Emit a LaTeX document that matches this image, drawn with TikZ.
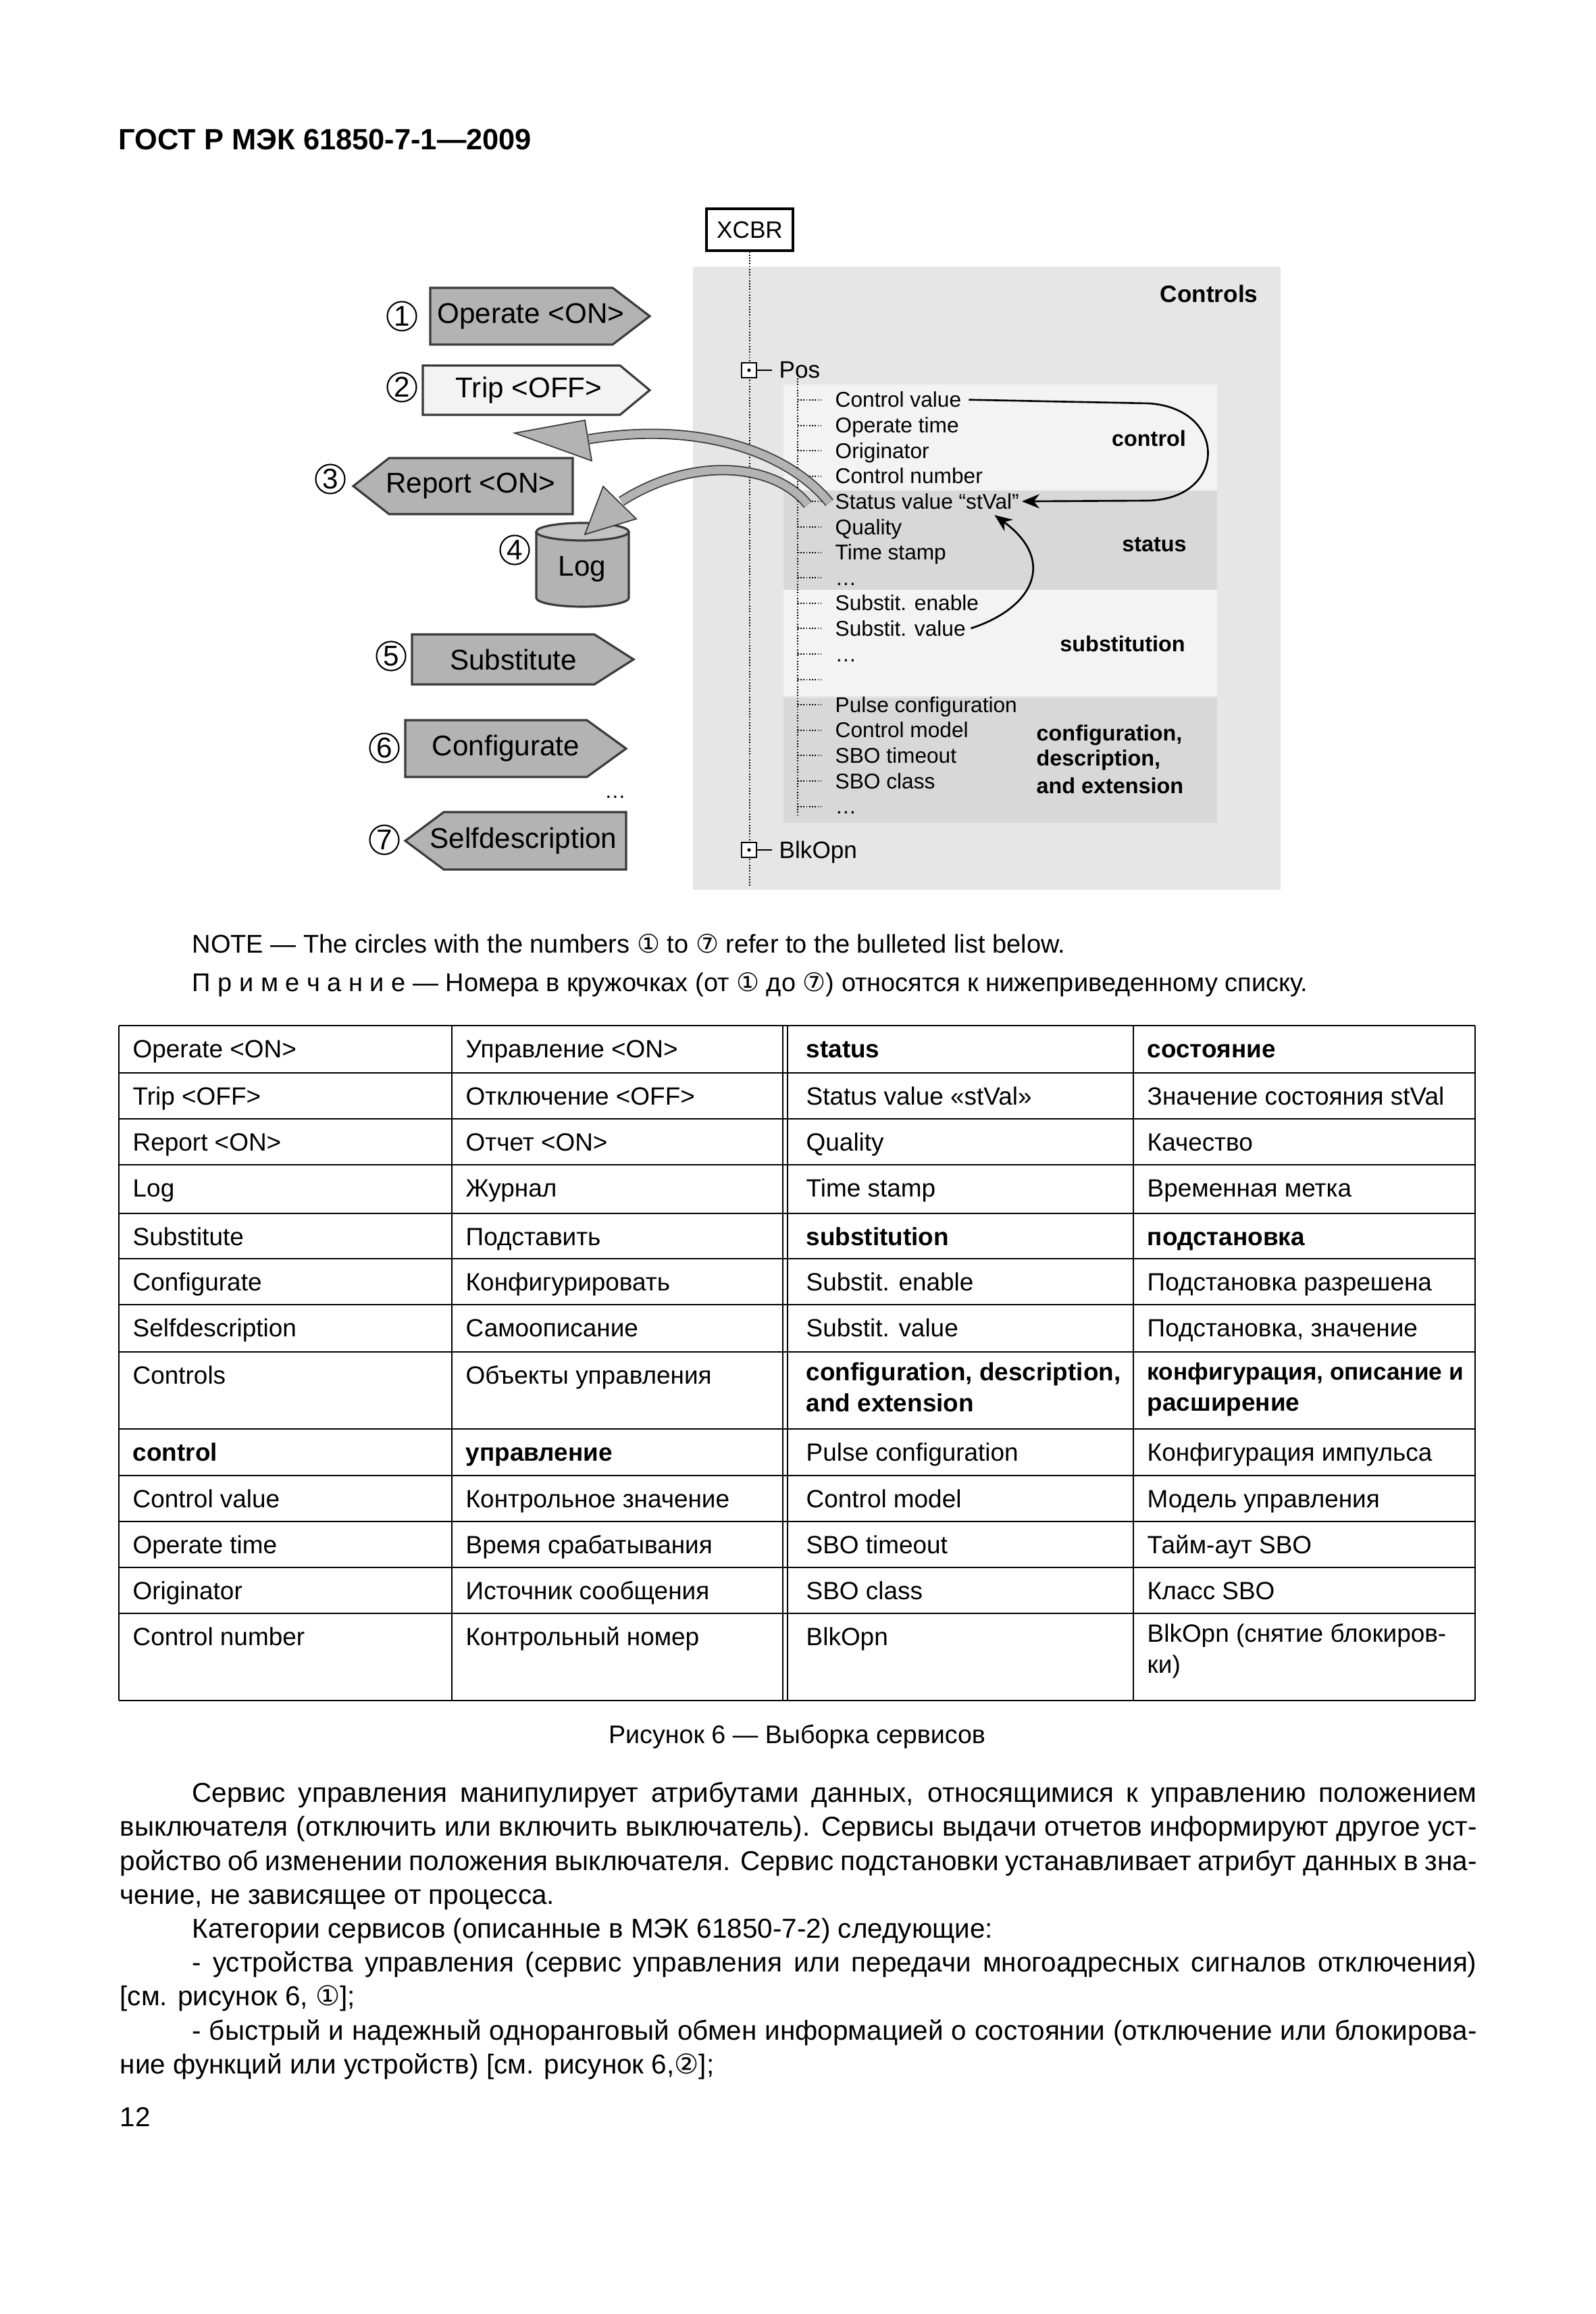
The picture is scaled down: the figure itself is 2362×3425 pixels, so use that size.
\documentclass[tikz,border=0pt]{standalone}
\usepackage{fontspec}
\setmainfont{Liberation Sans}
\newfontfamily\symfont{DejaVu Sans}
\usetikzlibrary{arrows.meta,calc,positioning}
\definecolor{ctlback}{HTML}{E6E6E6}
\definecolor{bandlight}{HTML}{F3F3F3}
\definecolor{banddark}{HTML}{D8D8D8}
\definecolor{boxgray}{HTML}{B3B3B3}
\definecolor{boxedge}{HTML}{3A3A3A}
\tikzset{
    svcbox/.style={fill=boxgray,draw=boxedge,line width=0.9pt,line join=miter},
    svclabel/.style={inner sep=0pt,font=\fontsize{12}{14}\selectfont},
    numcirc/.style={circle,draw=black,line width=0.6pt,fill=white,minimum size=0.43cm,inner sep=0pt,font=\fontsize{12}{13}\selectfont},
    treeitem/.style={anchor=base west,inner sep=0pt,font=\fontsize{9}{10}\selectfont},
    treehead/.style={anchor=base west,inner sep=0pt,font=\fontsize{10}{12}\selectfont},
    grouplabel/.style={inner sep=0pt,font=\bfseries\fontsize{9.2}{11}\selectfont},
    treeline/.style={black,line width=0.55pt,dash pattern=on 0.5pt off 0.7pt},
    ctrlarrow/.style={-{Stealth[length=2.6mm,width=2.1mm]},line width=0.75pt},
    bigarrow/.style={draw=boxedge,double=boxgray,double distance=3.3pt,line width=0.5pt},
    arrowhead/.style={fill=boxgray,draw=boxedge,line width=0.5pt,line join=miter},
    tablerule/.style={black,line width=0.8pt},
    tablecol/.style={black,line width=0.45pt},
    celltext/.style={anchor=north west,inner sep=0pt,align=left,font=\fontsize{10.5}{13.1}\selectfont,execute at begin node=\strut},
    bodyline/.style={anchor=base west,inner sep=0pt,font=\fontsize{11.5}{13}\selectfont},
    notetext/.style={anchor=base west,inner sep=0pt,font=\fontsize{10.8}{12}\selectfont}
}
\newcommand{\fullline}[1]{\makebox[571.3pt][s]{#1}}
\newcommand{\indline}[1]{\makebox[540.8pt][s]{#1}}

\begin{document}
\begin{tikzpicture}[x=0.01cm,y=-0.01cm]
  \useasboundingbox (0,0) rectangle (2362,3425);
  \fill[white] (0,0) rectangle (2362,3425);

  \node[anchor=west,inner sep=0pt,font=\bfseries\fontsize{12.35}{14}\selectfont] (header) at (175,207) {ГОСТ Р МЭК 61850-7-1—2009};

  % data object tree
  \fill[ctlback] (1026,395) rectangle (1896,1317);
  \fill[bandlight] (1160,569) rectangle (1802,726);
  \fill[banddark] (1160,726) rectangle (1802,873);
  \fill[bandlight] (1160,873) rectangle (1802,1030);
  \fill[banddark] (1160,1033) rectangle (1802,1218);
  \node[draw,line width=0.9pt,fill=white,minimum width=1.28cm,minimum height=0.62cm,inner sep=0pt,font=\fontsize{10}{12}\selectfont] (xcbr) at (1110,340) {XCBR};
  \node[anchor=east,inner sep=0pt,font=\bfseries\fontsize{10}{12}\selectfont] (controls) at (1863,435) {Controls};
  \draw[treeline] (xcbr.south) -- (1110,1313);
  \draw[treeline] (1181,560) -- (1181,1207);
  \foreach \nm/\yy/\txt in {pos/548/Pos,blkopn/1258/BlkOpn}{
    \node[draw,line width=0.45pt,fill=white,minimum size=0.22cm,inner sep=0pt] (\nm box) at (1109,\yy) {};
    \fill (\nm box.center) circle (2.6);
    \draw[line width=0.45pt] (\nm box.east) -- ++(22,0);
    \node[treehead] (\nm) at (1153,\yy+12) {\txt};
  }
  \foreach \i in {0,...,16}
    \draw[treeline] (1181,{592+37.6*\i}) -- ++(35,0);
  \foreach \i/\txt in {0/Control value,1/Operate time,2/Originator,3/Control number,4/Status value “stVal”,5/Quality,6/Time stamp,7/\ldots,8/Substit. enable,9/Substit. value,10/\ldots,12/Pulse configuration,13/Control model,14/SBO timeout,15/SBO class,16/\ldots}
    \node[treeitem] (r\i) at (1236,{603+37.6*\i}) {\txt};
  \node[grouplabel] (lblctl) at (1701,649) {control};
  \node[grouplabel] (lblst) at (1709,806) {status};
  \node[grouplabel] (lblsub) at (1662,953) {substitution};
  \node[grouplabel,anchor=west] (lblcfga) at (1534,1088) {configuration,};
  \node[grouplabel,anchor=west] (lblcfgb) at (1534,1125) {description,};
  \node[grouplabel,anchor=west] (lblcfgc) at (1534,1163) {and extension};
  \draw[ctrlarrow] ([xshift=3pt]r0.east) -- (1700,597) .. controls (1818,604) and (1818,738) .. (1700,741) -- ([xshift=1pt]r4.east);
  \draw[ctrlarrow] ([xshift=2pt]r9.east) .. controls (1530,900) and (1565,830) .. ($(r4.south east)+(-37,8)$);

  % services
  \draw[svcbox] (637,426) -- (907,426) -- (962,468) -- (907,510) -- (637,510) -- cycle;
  \node[svclabel] (operate) at (786,468) {Operate <ON>};
  \draw[svcbox,fill=bandlight] (626,541) -- (918,541) -- (962,577.5) -- (918,614) -- (626,614) -- cycle;
  \node[svclabel] (trip) at (783,577.5) {Trip <OFF>};
  \draw[svcbox] (848,678) -- (576,678) -- (523,719.5) -- (576,761) -- (848,761) -- cycle;
  \node[svclabel] (report) at (697,719.5) {Report <ON>};
  \fill[boxgray] (794,787) -- (794,885) arc[start angle=180,end angle=0,x radius=68.5,y radius=13] -- (931,787) -- cycle;
  \draw[boxedge,line width=0.9pt] (794,787) -- (794,885) arc[start angle=180,end angle=0,x radius=68.5,y radius=13] -- (931,787);
  \draw[boxedge,line width=0.9pt,fill=boxgray!80] (862.5,787) ellipse [x radius=68.5,y radius=13];
  \node[svclabel] (log) at (862,842) {Log};
  \draw[svcbox] (610,939) -- (880,939) -- (938,976) -- (880,1013) -- (610,1013) -- cycle;
  \node[svclabel] (subst) at (760,976) {Substitute};
  \draw[svcbox] (600,1066) -- (869,1066) -- (927,1108) -- (869,1150) -- (600,1150) -- cycle;
  \node[svclabel] (config) at (749,1108) {Configurate};
  \node[inner sep=0pt,font=\fontsize{9}{10}\selectfont] (moresvc) at (911,1180) {\ldots};
  \draw[svcbox] (927,1202) -- (657,1202) -- (600,1244.5) -- (657,1287) -- (927,1287) -- cycle;
  \node[svclabel] (selfdesc) at (775,1244.5) {Selfdescription};
  \foreach \k/\xx/\yy in {1/595/468,2/595/573,3/489/709,4/762/814,5/579/971,6/569/1107,7/569/1243}
    \node[numcirc] (n\k) at (\xx,\yy) {\k};

  % report and log arrows
  \coordinate (reptail) at ($(r4.west)+(-8,2)$);
  \coordinate (logtail) at ($(r4.west)+(-40,5)$);
  \draw[bigarrow] (reptail) .. controls (1170,672) and (1040,622) .. (872,650);
  \draw[arrowhead] (866,622) -- (762,641) -- (876,682) -- cycle;
  \draw[bigarrow] (logtail) .. controls (1150,688) and (1030,672) .. (920,742);
  \draw[arrowhead] (893,720) -- (866,791) -- (942,768) -- cycle;

  % note
  \node[notetext] (note1) at (284,1410) {NOTE — The circles with the numbers {\symfont ①} to {\symfont ⑦} refer to the bulleted list below.};
  \node[notetext] (note2) at (284,1467) {П р и м е ч а н и е — Номера в кружочках (от {\symfont ①} до {\symfont ⑦}) относятся к нижеприведенному списку.};

  % table
  \foreach \yy in {1518,1588,1656,1724,1796,1863,1931,2001,2115,2184,2252,2320,2388,2517}
    \draw[tablerule] (176,\yy) -- (2184,\yy);
  \draw[tablerule] (176,1518) -- (176,2517);
  \draw[tablerule] (2184,1518) -- (2184,2517);
  \foreach \xx in {669,1159,1166,1678}
    \draw[tablecol] (\xx,1518) -- (\xx,2517);
  \foreach \t/\a/\b/\c/\d in {
    1518/Operate <ON>/Управление <ON>/\textbf{status}/\textbf{состояние},
    1588/Trip <OFF>/Отключение <OFF>/Status value «stVal»/Значение состояния stVal,
    1656/Report <ON>/Отчет <ON>/Quality/Качество,
    1724/Log/Журнал/Time stamp/Временная метка,
    1796/Substitute/Подставить/\textbf{substitution}/\textbf{подстановка},
    1863/Configurate/Конфигурировать/Substit. enable/Подстановка разрешена,
    1931/Selfdescription/Самоописание/Substit. value/{Подстановка, значение},
    2001/Controls/Объекты управления/{\textbf{configuration, description,}\\\textbf{and extension}}/{\fontsize{10}{13.1}\selectfont\textbf{конфигурация, описание и}\\\textbf{расширение}},
    2115/\textbf{control}/\textbf{управление}/Pulse configuration/Конфигурация импульса,
    2184/Control value/Контрольное значение/Control model/Модель управления,
    2252/Operate time/Время срабатывания/SBO timeout/Тайм-аут SBO,
    2320/Originator/Источник сообщения/SBO class/Класс SBO,
    2388/Control number/Контрольный номер/BlkOpn/{BlkOpn (снятие блокиров-\\ки)}}{
    \node[celltext] (a\t) at (196,\t+15) {\a};
    \node[celltext] (b\t) at (689,\t+15) {\b};
    \node[celltext] (c\t) at (1193,\t+15) {\c};
    \node[celltext] (d\t) at (1698,\t+15) {\d};
  }
  \node[inner sep=0pt,font=\fontsize{10.7}{12}\selectfont] (caption) at (1180,2571) {Рисунок 6 — Выборка сервисов};

  % running text
  \node[bodyline] (p1) at (284,2667) {\indline{Сервис управления манипулирует атрибутами данных, относящимися к управлению положением}};
  \node[bodyline] (p2) at (177,2717) {\fullline{выключателя (отключить или включить выключатель). Сервисы выдачи отчетов информируют другое уст-}};
  \node[bodyline] (p3) at (177,2768) {\fullline{ройство об изменении положения выключателя. Сервис подстановки устанавливает атрибут данных в зна-}};
  \node[bodyline] (p4) at (177,2818) {чение, не зависящее от процесса.};
  \node[bodyline] (p5) at (284,2868) {Категории сервисов (описанные в МЭК 61850-7-2) следующие:};
  \node[bodyline] (p6) at (284,2918) {\indline{- устройства управления (сервис управления или передачи многоадресных сигналов отключения)}};
  \node[bodyline] (p7) at (177,2968) {[см. рисунок 6, {\symfont ①}];};
  \node[bodyline] (p8) at (284,3019) {\indline{- быстрый и надежный одноранговый обмен информацией о состоянии (отключение или блокирова-}};
  \node[bodyline] (p9) at (177,3069) {ние функций или устройств) [см. рисунок 6,{\symfont ②}];};
  \node[bodyline] (pageno) at (177,3147) {12};
\end{tikzpicture}
\end{document}
